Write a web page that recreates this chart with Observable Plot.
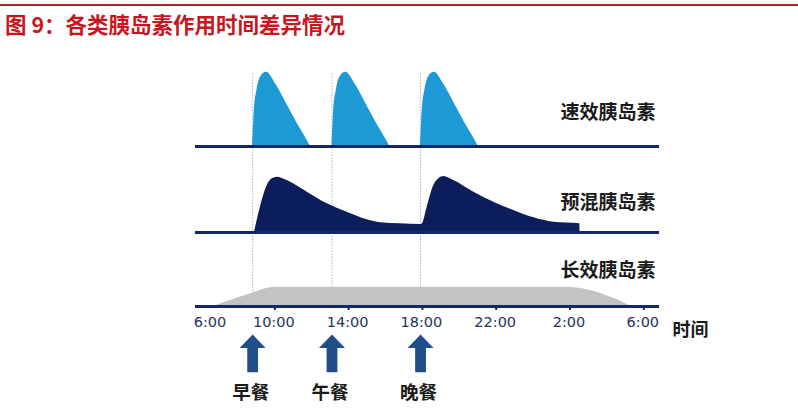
<!DOCTYPE html>
<html><head><meta charset="utf-8">
<script src="https://cdn.jsdelivr.net/npm/d3@7"></script>
<script src="https://cdn.jsdelivr.net/npm/@observablehq/plot@0.6"></script>
<style>
body{margin:0;background:#fff;width:798px;height:416px;overflow:hidden}
#hdr{position:relative;height:45px}
#rule{position:absolute;left:0;top:4px;width:798px;height:2px;background:#a8222a}
#title{position:absolute;left:5px;top:9px;font:bold 21.5px "Noto Sans CJK SC";color:#c8161e;line-height:30px;white-space:nowrap}
</style></head>
<body>
<div id="hdr"><div id="rule"></div><div id="title">图 9：各类胰岛素作用时间差异情况</div></div>
<div id="chart"></div>
<script>
// ---- data ----
const tickHours = [6, 10, 14, 18, 22, 26, 30];
const tickLabels = ["6:00", "10:00", "14:00", "18:00", "22:00", "2:00", "6:00"];
const mealHours = [8.8, 13.1, 17.9];
const mealLabels = ["早餐", "午餐", "晚餐"];
const seriesLabels = ["速效胰岛素", "预混胰岛素", "长效胰岛素"];
// rapid-acting profile: hours after injection, effect height
const rapidDt = [0, 0.09, 0.23, 0.42, 0.74, 1.30, 1.84, 2.38, 2.86, 3.13];
const rapidV  = [0, 36, 56, 69.3, 74.3, 61, 42.7, 24.3, 9.3, 0];
// premixed: hours, effect height
const premixT = [8.9, 9.22, 9.59, 9.86, 10.13, 10.67, 11.76, 12.84, 13.92, 15.01, 15.73, 16.81, 17.93,
                 18.0, 18.26, 18.62, 18.89, 19.16, 19.70, 20.79, 21.87, 22.95, 24.04, 25.12, 26.53, 26.55];
const premixV = [0, 25.3, 47, 53.7, 55.3, 52, 40.3, 28.7, 20.3, 12.7, 9.7, 8.7, 8,
                 8.7, 25.3, 47, 53.7, 56, 52, 40.3, 30.3, 22, 14.7, 10.3, 8.7, 0];
// long-acting: hours, effect height
const longT = [6.69, 7.87, 8.78, 9.50, 10.04, 25.66, 27.11, 28.20, 29.10, 29.28];
const longV = [0, 7.7, 13.3, 17.7, 19.3, 19.3, 16, 9.3, 2, 0];

// ---- layout ----
const base = {rapid: 160, premix: 74, long: 0};
const axisStart = 5.7, axisEnd = 30.85;

const rapid = mealHours.flatMap((m, i) => rapidDt.map((dt, j) => ({dose: i, t: m + dt, v: rapidV[j]})));
const premix = premixT.map((t, i) => ({t, v: premixV[i]}));
const longAct = longT.map((t, i) => ({t, v: longV[i]}));

const navy = "#12266a";
const arrowShape = {
  draw(ctx, l) {
    const hw = 13, sw = 5.4, hh = 13.5;
    ctx.moveTo(-sw, 0);
    ctx.lineTo(-sw, -(l - hh));
    ctx.lineTo(-hw, -(l - hh));
    ctx.lineTo(0, -l);
    ctx.lineTo(hw, -(l - hh));
    ctx.lineTo(sw, -(l - hh));
    ctx.lineTo(sw, 0);
    ctx.closePath();
  }
};

const plot = Plot.plot({
  width: 798, height: 371,
  marginLeft: 200.5, marginRight: 154.7, marginTop: 0, marginBottom: 110,
  x: {domain: [6, 30], axis: null},
  y: {domain: [0, 261], axis: null},
  marks: [
    Plot.ruleX(mealHours, {x: d => d, y1: 0, y2: 234, stroke: "#a7b2cc", strokeWidth: 1, strokeDasharray: "1.5,1.5"}),
    Plot.areaY(longAct, {x: "t", y1: base.long, y2: d => base.long + d.v, fill: "#c3c3c3", curve: "monotone-x"}),
    Plot.areaY(rapid, {x: "t", y1: base.rapid, y2: d => base.rapid + d.v, z: "dose", fill: "#1d9ad6", curve: "monotone-x"}),
    Plot.areaY(premix, {x: "t", y1: base.premix, y2: d => base.premix + d.v, fill: "#0b1e5b", curve: "monotone-x"}),
    Plot.ruleY([base.rapid, base.premix, base.long], {x1: axisStart, x2: axisEnd, stroke: navy, strokeWidth: 3}),
    Plot.ruleX(tickHours.slice(1), {x: d => d, y1: 0, y2: -4, stroke: navy, strokeWidth: 2}),
    Plot.text([tickLabels[0]], {x: tickHours[0], y: -16, text: d => d, dx: 9, fontSize: 14.5, fontFamily: "DejaVu Sans", fill: "#27335c"}),
    Plot.text(tickLabels.slice(1), {x: (d, i) => tickHours[i + 1], y: -16, text: d => d, dx: -1, fontSize: 14.5, fontFamily: "DejaVu Sans", fill: "#27335c"}),
    Plot.text(seriesLabels, {x: 30.63, y: (d, i) => [194, 104, 36][i], text: d => d, textAnchor: "end", fontSize: 19, fontWeight: "bold", fontFamily: "Noto Sans CJK SC", fill: "#1a1a1a"}),
    Plot.text(["时间"], {x: 31.56, y: -24, text: d => d, textAnchor: "start", fontSize: 18, fontWeight: "bold", fontFamily: "Noto Sans CJK SC", fill: "#1a1a1a"}),
    Plot.vector(mealHours, {x: d => d, y: -65.7, length: 37.7, anchor: "start", shape: arrowShape, fill: "#214d89", stroke: "none"}),
    Plot.text(mealLabels, {x: (d, i) => mealHours[i], y: -87, text: d => d, dx: -2, fontSize: 18.5, fontWeight: "bold", fontFamily: "Noto Sans CJK SC", fill: "#1a1a1a"})
  ]
});
document.getElementById("chart").appendChild(plot);
</script>
</body></html>
